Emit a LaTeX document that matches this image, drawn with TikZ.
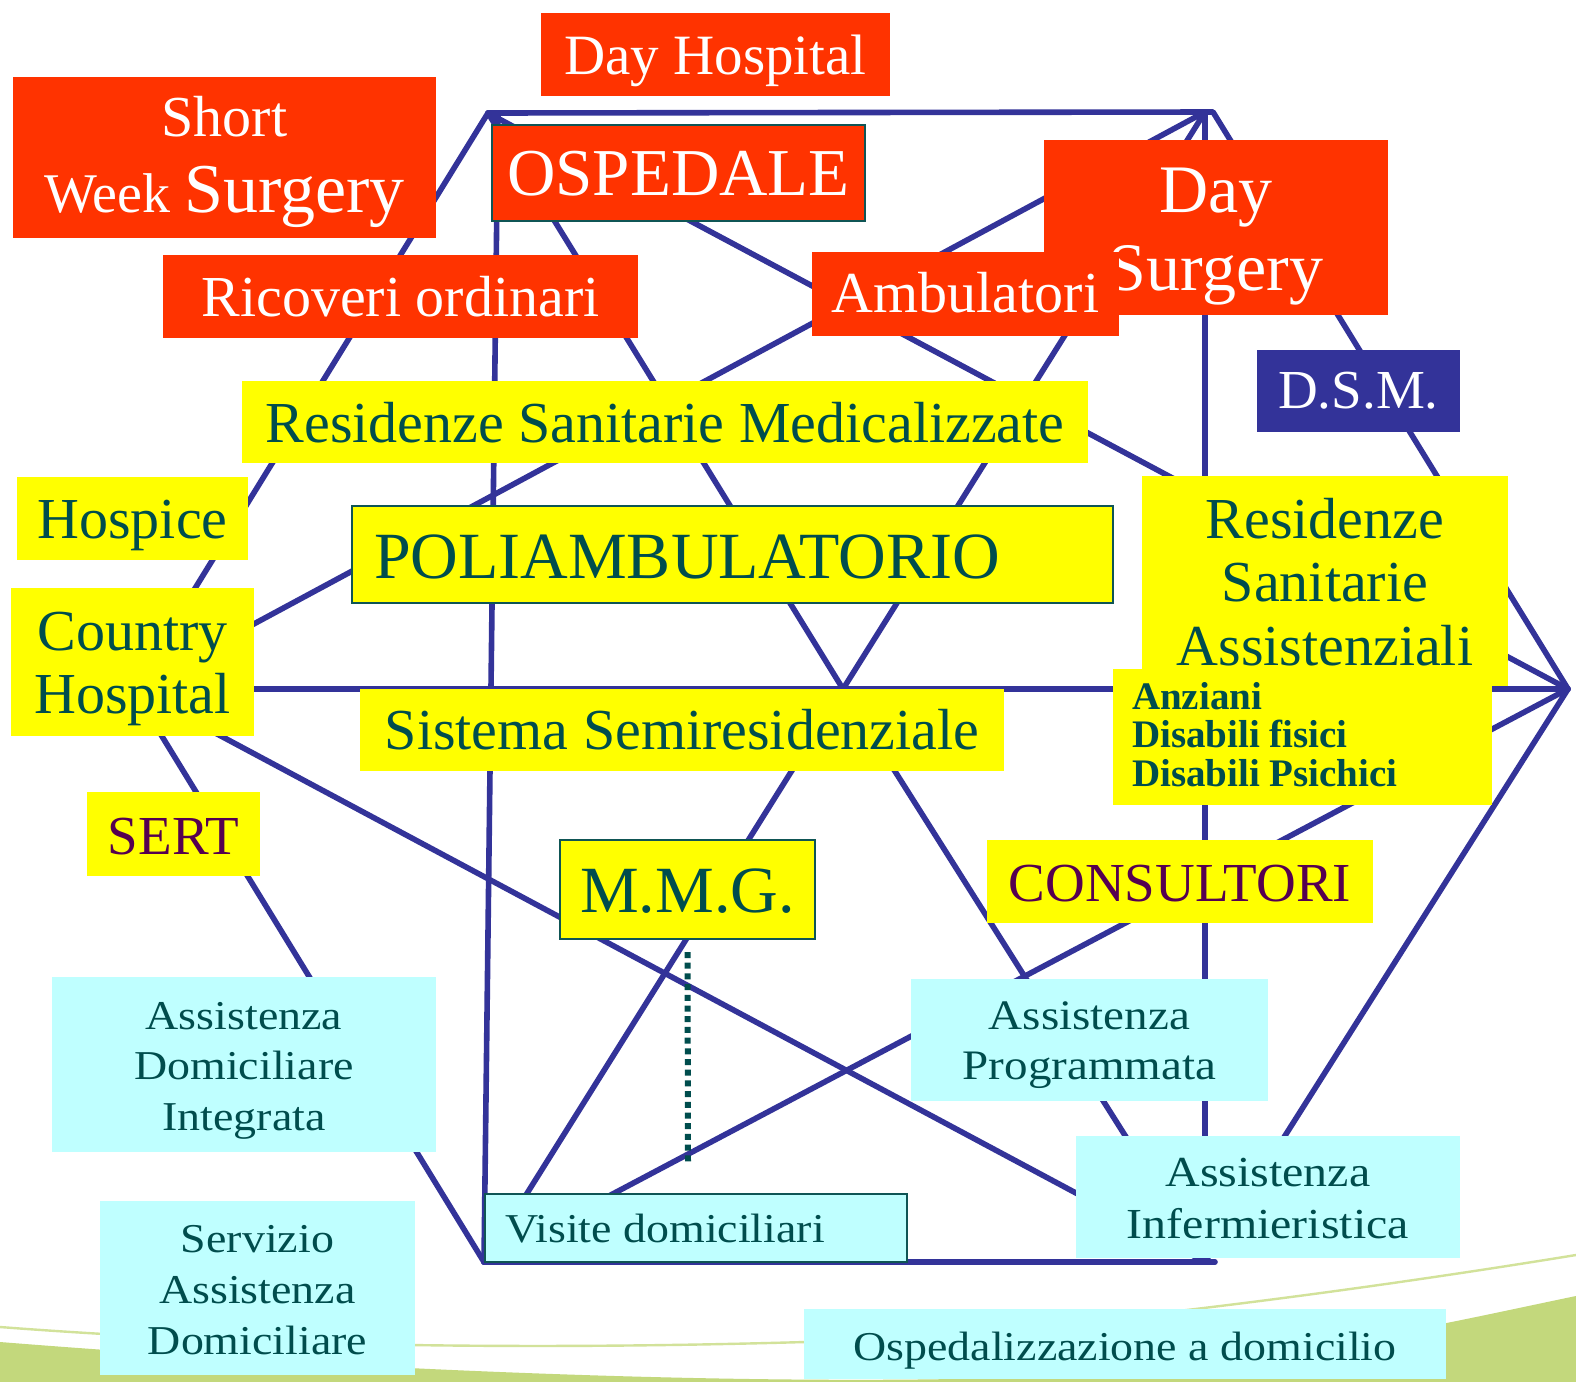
\documentclass[tikz,border=0pt]{standalone}
\usepackage{fontspec}
\setmainfont{Liberation Serif}
\newfontfamily\wideserif{Liberation Serif}[FakeStretch=1.12]
\definecolor{hred}{HTML}{FF3300}
\definecolor{hyellow}{HTML}{FFFF00}
\definecolor{hcyan}{HTML}{BFFFFF}
\definecolor{hblue}{HTML}{333399}
\definecolor{hteal}{HTML}{004D4D}
\definecolor{hborder}{HTML}{0F5555}
\definecolor{hpurple}{HTML}{550050}
\definecolor{hgreen}{HTML}{C3D87C}
\definecolor{hpale}{HTML}{D2E29A}
% text lifted to a given baseline offset, occupying no height
\newcommand\lift[2]{\raisebox{#1}[0pt][0pt]{#2}}
% centred and left-aligned line stacks with a fixed baseline distance
\newcommand\cstack[2]{\vtop{\baselineskip=#1\lineskiplimit=-1000pt\lineskip=0pt\halign{\hfil##\hfil\cr#2\crcr}}}
\newcommand\lstack[2]{\vtop{\baselineskip=#1\lineskiplimit=-1000pt\lineskip=0pt\halign{##\hfil\cr#2\crcr}}}
\newcommand\fs[1]{\fontsize{#1}{#1}\selectfont}
\tikzset{
  box/.style={inner sep=0pt, outer sep=0pt, anchor=north west, font=\fs{29pt}},
  redbox/.style={box, fill=hred, text=white},
  ybox/.style={box, fill=hyellow, text=hteal},
  cbox/.style={box, fill=hcyan, text=hteal, font=\wideserif\fs{20.5pt}},
  framed/.style={draw=hborder, line width=1pt},
  link/.style={draw=hblue, line width=2.8pt, line cap=round, line join=round},
  dotlink/.style={draw=hteal, line width=3pt, dash pattern=on 3pt off 2.35pt}
}
\begin{document}
\begin{tikzpicture}[x=0.5pt, y=-0.5pt]
  % canvas
  \path[use as bounding box, fill=white] (0,0) rectangle (1576,1382);
  % green swoosh along the bottom edge
  \fill[hgreen] (0,1342) .. controls (300,1366) and (700,1386) .. (1000,1378)
     .. controls (1250,1370) and (1450,1322) .. (1576,1296) -- (1576,1382) -- (0,1382) -- cycle;
  \draw[hpale, line width=1.2pt] (0,1327) .. controls (300,1350) and (600,1348) .. (805,1342)
     .. controls (1000,1336) and (1300,1300) .. (1576,1255);

  % vertices of the network
  \coordinate (T1) at (488,113);
  \coordinate (T1v) at (498,113);
  \coordinate (T2) at (1205,112);
  \coordinate (T2e) at (1213,112);
  \coordinate (R) at (1568,689);
  \coordinate (B1) at (484,1262);
  \coordinate (B2) at (1205,1262);
  \coordinate (B2e) at (1215,1262);
  \coordinate (L) at (133,689);
  \coordinate (C) at (843,689);
  \coordinate (dotend) at (688,1162);

  % outer hexagon
  \draw[link] (T1) -- (T2e) -- (R) -- (B2);
  \draw[link] (B1) -- (B2e);
  \draw[link] (T1) -- (L) -- (B1);
  % verticals and horizontal
  \draw[link] (T1v) -- (B1);
  \draw[link] (T2) -- (B2);
  \draw[link] (L) -- (R);
  % central diamond
  \draw[link] (T1) -- (C) -- (T2);
  \draw[link] (B1) -- (C) -- (B2);
  % long diagonals
  \draw[link] (T1) -- (R);
  \draw[link] (T2) -- (L);
  \draw[link] (B1) -- (R);
  \draw[link] (L) -- (B2);

  % hospital services
  \node[redbox, font=\fs{28.5pt}, minimum width=174.5pt, minimum height=41.5pt] (dayhosp) at (541,13)
    {\lift{-9.75pt}{Day Hospital}};
  \node[redbox, minimum width=211.5pt, minimum height=80.5pt] (shortweek) at (13,77)
    {\lift{10.75pt}{\cstack{38pt}{\fs{29pt}Short\cr{\fs{28pt}Week} {\fs{35pt}Surgery}}}};
  \node[redbox, framed, font=\fs{33.5pt}, minimum width=186.5pt, minimum height=48pt] (ospedale) at (492,125)
    {\lift{-11pt}{OSPEDALE}};
  \node[redbox, font=\fs{34pt}, minimum width=172pt, minimum height=87.5pt] (daysurg) at (1044,140)
    {\lift{7.75pt}{\cstack{39pt}{Day\cr Surgery}}};
  \node[redbox, minimum width=153.5pt, minimum height=42pt] (ambul) at (812,252)
    {\lift{-9pt}{Ambulatori}};
  \node[redbox, minimum width=237.5pt, minimum height=41.5pt] (ricoveri) at (163,255)
    {\lift{-9.75pt}{Ricoveri ordinari}};

  % residential and outpatient structures
  \node[ybox, minimum width=423pt, minimum height=41pt] (rsm) at (242,381)
    {\lift{-10pt}{Residenze Sanitarie Medicalizzate}};
  \node[ybox, minimum width=115.5pt, minimum height=41.5pt] (hospice) at (17,477)
    {\lift{-9.75pt}{Hospice}};
  \node[ybox, framed, font=\fs{33pt}, minimum width=380.5pt, minimum height=48.5pt] (poli) at (352,506)
    {\lift{-11.75pt}{\makebox[380.5pt][l]{\hspace{11pt}POLIAMBULATORIO}}};
  \node[ybox, minimum width=121.5pt, minimum height=74pt] (country) at (11,588)
    {\lift{6pt}{\cstack{31.5pt}{Country\cr Hospital}}};
  \node[ybox, minimum width=183pt, minimum height=105pt] (rsa) at (1142,476)
    {\lift{21.5pt}{\cstack{31.75pt}{Residenze\cr Sanitarie\cr Assistenziali}}};
  \node[ybox, font=\bfseries\fs{19.5pt}, minimum width=189.5pt, minimum height=68pt] (anziani) at (1113,669)
    {\lift{14pt}{\makebox[189.5pt][l]{\hspace{9.5pt}\lstack{19.25pt}{Anziani\cr Disabili fisici\cr Disabili Psichici}}}};
  \node[box, fill=hblue, text=white, font=\fs{27.5pt}, minimum width=101.5pt, minimum height=41pt] (dsm) at (1257,350)
    {\lift{-8.5pt}{D.S.M.}};
  \node[ybox, minimum width=322pt, minimum height=41pt] (sistema) at (360,689)
    {\lift{-9.5pt}{Sistema Semiresidenziale}};
  \node[ybox, text=hpurple, font=\fs{27.5pt}, minimum width=86.5pt, minimum height=42pt] (sert) at (87,792)
    {\lift{-10pt}{SERT}};
  \node[ybox, framed, font=\fs{33pt}, minimum width=127.5pt, minimum height=49.5pt] (mmg) at (560,840)
    {\lift{-11.25pt}{M.M.G.}};
  \node[ybox, text=hpurple, font=\fs{27.5pt}, minimum width=193pt, minimum height=41.5pt] (consult) at (987,840)
    {\lift{-9.75pt}{CONSULTORI}};

  % home care services
  \node[cbox, minimum width=192pt, minimum height=87.5pt] (adi) at (52,977)
    {\lift{17.75pt}{\cstack{25.25pt}{Assistenza\cr Domiciliare\cr Integrata}}};
  \node[cbox, minimum width=157.5pt, minimum height=87pt] (sad) at (100,1201)
    {\lift{18pt}{\cstack{25.5pt}{Servizio\cr Assistenza\cr Domiciliare}}};
  \node[cbox, framed, minimum width=211pt, minimum height=34pt] (visite) at (485,1194)
    {\lift{-7pt}{\makebox[211pt][l]{\hspace{10pt}Visite domiciliari}}};
  \node[cbox, font=\wideserif\fs{21pt}, minimum width=178.5pt, minimum height=61pt] (aprog) at (911,979)
    {\lift{5.5pt}{\cstack{25pt}{Assistenza\cr Programmata}}};
  \node[cbox, font=\wideserif\fs{21.4pt}, minimum width=192pt, minimum height=61pt] (ainf) at (1076,1136)
    {\lift{5.5pt}{\cstack{26pt}{Assistenza\cr Infermieristica}}};
  \node[cbox, minimum width=321pt, minimum height=35pt] (ospdom) at (804,1309)
    {\lift{-8pt}{Ospedalizzazione a domicilio}};

  % family doctor's dotted link to home visits
  \draw[dotlink, shorten <=6.5pt] (mmg.south) -- (dotend);
\end{tikzpicture}
\end{document}
